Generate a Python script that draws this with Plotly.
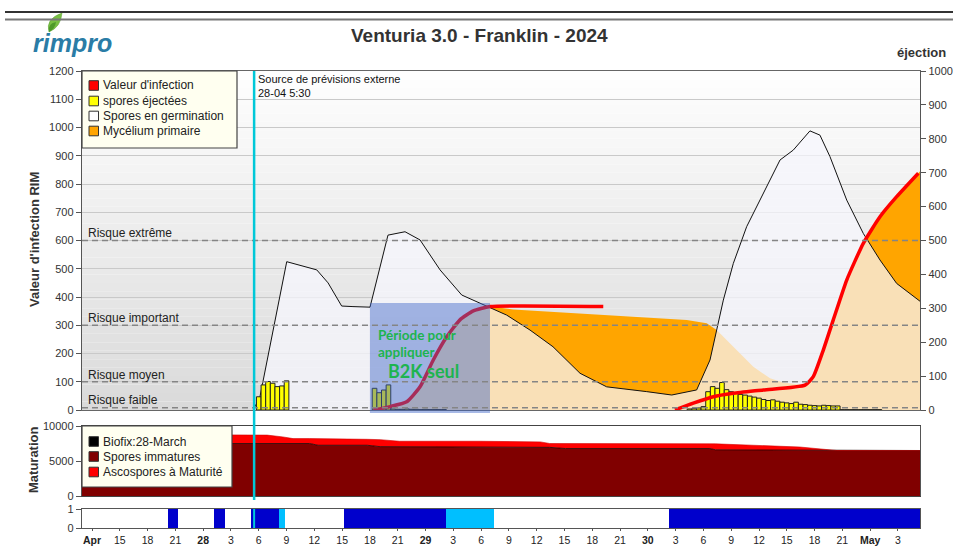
import plotly.graph_objects as go

# ---------------- data (hours since 27-Apr 00:00) ----------------
germ_hours = [29.4, 30.13, 33.02, 34.45, 36.26, 37.48, 38.95, 40.17, 42.01, 43.95, 45.79, 47.41,
              49.57, 51.91, 53.88, 54.96, 56.76, 59.28, 61.76, 64.68, 67.56, 71.88, 74.58, 77.27,
              78.71, 80.15, 81.23, 82.67, 84.47, 86.27, 87.70, 89.50, 90.58, 91.66, 93.47, 95.26,
              97.06, 98.86, 101.38]
germ_values = [0, 47, 525, 513, 496, 450, 368, 366, 364, 619, 631, 602,
               496, 407, 378, 364, 336, 283, 224, 130, 82, 65, 53, 71,
               177, 389, 519, 649, 767, 885, 920, 988, 973, 897, 743, 625,
               531, 448, 385]

myc_hours = [10.9, 42.37, 44.17, 45.97, 47.41, 48.84, 50.29, 51.72, 53.16, 54.96, 57.45, 64.68,
             71.88, 76.20, 78.35, 79.43, 81.23, 83.39, 85.19, 86.59, 88.97, 89.86, 90.94, 92.02,
             93.47, 95.26, 97.06, 98.86, 101.2, 101.38]
myc_values = [0, 0, 12, 29, 82, 177, 259, 319, 351, 366, 356, 342,
              330, 319, 307, 283, 224, 153, 112, 97, 88, 118, 212, 319,
              460, 590, 684, 755, 838, 845]

inf1_hours = [42.37, 44.17, 45.97, 47.41, 48.84, 50.29, 51.72, 53.16, 54.96, 67.19]
inf1_values = [0, 12, 29, 82, 177, 259, 319, 351, 366, 366]
inf2_hours = [74.93, 76.91, 79.07, 81.23, 84.47, 88.97, 89.86, 90.94, 92.02, 93.47, 95.26,
              97.06, 98.86, 101.2]
inf2_values = [0, 24, 47, 59, 71, 88, 118, 212, 319, 460, 590, 684, 755, 838]

eject_hours = [30.0, 30.5, 31.0, 31.5, 32.0, 32.5, 33.0,
               42.5, 43.0, 43.5, 44.0,
               44.5, 45.0, 45.5, 46.0, 46.5, 47.0, 47.5, 48.0, 48.5, 49.0, 49.5, 50.0,
               76.5, 77.0, 77.5, 78.0, 78.5, 79.0, 79.5, 80.0, 80.5, 81.0, 81.5, 82.0,
               82.5, 83.0, 83.5, 84.0, 84.5, 85.0, 85.5, 86.0, 86.5, 87.0, 87.5, 88.0,
               88.5, 89.0, 89.5, 90.0, 90.5, 91.0, 91.5, 92.0, 92.5,
               93.0, 93.5, 94.0, 94.5, 95.0, 95.5, 96.0, 96.5, 97.0]
eject_values = [39, 74, 84, 79, 69, 71, 86,
                64, 51, 59, 74,
                3, 2, 2, 3, 2, 2, 1, 2, 1, 1, 1, 1,
                3, 4, 6, 10, 54, 69, 64, 81, 60, 54, 50, 46,
                44, 41, 38, 35, 31, 28, 30, 26, 23, 21, 19, 23,
                17, 16, 14, 13, 12, 14, 13, 12, 12,
                1, 1, 1, 1, 1, 1, 1, 1, 1]

mat_hours = [10.9, 29.6, 30.9, 32.6, 33.7, 35.5, 36.4, 41.7, 43.1, 43.8, 45.2, 53.9,
             60.4, 61.4, 63.1, 73.6, 78.7, 79.3, 88.4, 89.9, 90.5, 92.4, 101.38]
immatures = [7500, 7500, 7500, 7500, 7500, 7500, 7250, 7250, 7050, 7050, 7050, 7050,
             7050, 6950, 6780, 6780, 6780, 6600, 6560, 6560, 6500, 6500, 6500]
matures = [1280, 1280, 1200, 940, 700, 700, 950, 850, 1000, 950, 770, 770,
           680, 550, 720, 720, 720, 850, 440, 240, 200, 0, 0]

strip_start = [10.92, 20.2, 21.3, 25.2, 26.4, 29.2, 32.2, 32.8, 39.2, 50.2, 55.4, 74.3]
strip_end = [20.2, 21.3, 25.2, 26.4, 29.2, 32.2, 32.8, 39.2, 50.2, 55.4, 74.3, 101.38]
strip_state = ["none", "wet", "none", "wet", "none", "wet", "light", "none", "wet", "light", "none", "wet"]

risk_levels = [600, 300, 100, 8]
risk_labels = ["Risque extrême", "Risque important", "Risque moyen", "Risque faible"]

tick_hours = list(range(12, 100, 3))
tick_labels = ["<b>Apr</b>", "15", "18", "21", "<b>28</b>", "3", "6", "9", "12", "15", "18", "21",
               "<b>29</b>", "3", "6", "9", "12", "15", "18", "21",
               "<b>30</b>", "3", "6", "9", "12", "15", "18", "21", "<b>May</b>", "3"]

forecast_hour = 29.5
b2k_start, b2k_end = 42.0, 54.96

# ---------------- layout helpers ----------------
W, H = 953, 546
ML, MR, MT, MB = 82, 33, 71, 18
PW = W - ML - MR
PH = H - MT - MB
STRIP_TOP = 509


def px_x(px):
    return (px - ML) / PW


def px_y(py):
    return (H - MB - py) / PH


FONT = "Liberation Sans, Arial, sans-serif"
XR = [10.92, 101.38]

fig = go.Figure()

# Mycelium (orange)
fig.add_trace(go.Scatter(x=myc_hours, y=myc_values, mode="lines", line=dict(width=0, color="#ffa500"),
                         fill="tozeroy", fillcolor="#ffa500", xaxis="x", yaxis="y", showlegend=False,
                         hoverinfo="skip"))
# Germinating spores (semi-transparent white)
fig.add_trace(go.Scatter(x=germ_hours, y=germ_values, mode="lines", line=dict(width=1, color="#111"),
                         fill="tozeroy", fillcolor="rgba(247,247,253,0.72)", xaxis="x", yaxis="y",
                         showlegend=False, hoverinfo="skip"))
# Ejected spores (right axis)
fig.add_trace(go.Bar(x=eject_hours, y=eject_values, width=0.5,
                     marker=dict(color="#ffff00", line=dict(color="#222", width=1)),
                     xaxis="x", yaxis="y2", showlegend=False, hoverinfo="skip"))
# Infection value (red)
for hh, vv in [(inf1_hours, inf1_values), (inf2_hours, inf2_values)]:
    fig.add_trace(go.Scatter(x=hh, y=vv, mode="lines", line=dict(width=3.5, color="#ff0000", shape="spline",
                                                                    smoothing=0.5),
                             xaxis="x", yaxis="y5", showlegend=False, hoverinfo="skip"))

# Maturation
fig.add_trace(go.Scatter(x=mat_hours, y=immatures, mode="lines", line=dict(width=0.8, color="#1a0000"),
                         stackgroup="m", fillcolor="#800000", xaxis="x2", yaxis="y3", showlegend=False,
                         hoverinfo="skip"))
fig.add_trace(go.Scatter(x=mat_hours, y=matures, mode="lines", line=dict(width=0.6, color="#d00000"),
                         stackgroup="m", fillcolor="#ff0000", xaxis="x2", yaxis="y3", showlegend=False,
                         hoverinfo="skip"))

# Wetness strip
state_color = {"none": "#ffffff", "wet": "#0000cc", "light": "#00bfff"}
fig.add_trace(go.Bar(x=[(s + e) / 2 for s, e in zip(strip_start, strip_end)],
                     y=[1] * len(strip_start),
                     width=[e - s for s, e in zip(strip_start, strip_end)],
                     marker=dict(color=[state_color[s] for s in strip_state], line=dict(width=0)),
                     xaxis="x3", yaxis="y4", showlegend=False, hoverinfo="skip"))

shapes = []
# background gradient of main plot
N = 40
for i in range(N):
    t = (i + 0.5) / N
    c = int(218 + (255 - 218) * t)
    shapes.append(dict(type="rect", xref="x domain", yref="y domain", x0=0, x1=1, y0=i / N, y1=(i + 1) / N,
                       fillcolor=f"rgb({c},{c},{c})", line=dict(width=0), layer="below"))
# B2K period box
shapes.append(dict(type="rect", xref="x", yref="paper", x0=b2k_start, x1=b2k_end,
                   y0=px_y(413), y1=px_y(303), fillcolor="rgba(60,100,200,0.45)", line=dict(width=0),
                   layer="above"))
# risk lines
for r in risk_levels:
    shapes.append(dict(type="line", xref="x domain", yref="y", x0=0, x1=1, y0=r, y1=r,
                       line=dict(color="#858585", width=1.6, dash="6px,4px"), layer="above"))
# forecast line
shapes.append(dict(type="line", xref="x", yref="paper", x0=forecast_hour, x1=forecast_hour,
                   y0=px_y(500), y1=px_y(71), line=dict(color="#00c8d8", width=2.5), layer="above"))
shapes.append(dict(type="line", xref="x", yref="paper", x0=forecast_hour, x1=forecast_hour,
                   y0=0, y1=px_y(STRIP_TOP), line=dict(color="#00c8d8", width=2), layer="above"))

annotations = []


def legend_box(x0, y0, x1, y1, items):
    shapes.append(dict(type="rect", xref="paper", yref="paper", x0=px_x(x0), x1=px_x(x1),
                       y0=px_y(y1), y1=px_y(y0), fillcolor="#fffff0",
                       line=dict(color="#444", width=1.2), layer="above"))
    for yc, col, txt in items:
        shapes.append(dict(type="rect", xref="paper", yref="paper", x0=px_x(89), x1=px_x(98.5),
                           y0=px_y(yc + 4.8), y1=px_y(yc - 4.8), fillcolor=col,
                           line=dict(color="#333", width=1), layer="above"))
        annotations.append(dict(xref="paper", yref="paper", x=px_x(101), y=px_y(yc), text=txt,
                                showarrow=False, xanchor="left", yanchor="middle",
                                font=dict(family=FONT, size=12, color="#222")))


legend_box(82, 71, 237, 148, [(85.5, "#ff0000", "Valeur d'infection"),
                              (101, "#ffff00", "spores éjectées"),
                              (116, "#ffffff", "Spores en germination"),
                              (131, "#ffa500", "Mycélium primaire")])
legend_box(82, 426, 232, 487, [(441.5, "#000000", "Biofix:28-March"),
                               (456.5, "#800000", "Spores immatures"),
                               (472, "#ff0000", "Ascospores à Maturité")])

# risk labels
for lab, yc in zip(risk_labels, [233, 318, 375.5, 400]):
    annotations.append(dict(xref="paper", yref="paper", x=px_x(86), y=px_y(yc), text=lab, showarrow=False,
                            xanchor="left", yanchor="middle", font=dict(family=FONT, size=12, color="#222")))

# forecast source text
annotations.append(dict(xref="x", yref="paper", x=forecast_hour, xshift=2, y=px_y(71), yanchor="top",
                        xanchor="left", showarrow=False, align="left",
                        text="Source de prévisions externe<br>28-04 5:30",
                        font=dict(family=FONT, size=11, color="#111")))

# B2K text
GREEN = "#1db44f"
for txt, xp, yp, sz in [("Période pour", 376, 335, 13.5), ("appliquer", 376, 352, 13.5),
                        ("B2K seul", 386, 371, 18)]:
    annotations.append(dict(xref="paper", yref="paper", x=px_x(xp), y=px_y(yp), text=f"<b>{txt}</b>",
                            showarrow=False, xanchor="left", yanchor="middle",
                            font=dict(family="Lato, Open Sans, sans-serif", size=sz, color=GREEN)))

# titles
annotations.append(dict(xref="paper", yref="paper", x=px_x(479), y=px_y(35), text="<b>Venturia 3.0 - Franklin - 2024</b>",
                        showarrow=False, xanchor="center", yanchor="middle",
                        font=dict(family=FONT, size=19, color="#333")))
annotations.append(dict(xref="paper", yref="paper", x=px_x(948), y=px_y(53), text="<b>éjection</b>",
                        showarrow=False, xanchor="right", yanchor="middle",
                        font=dict(family=FONT, size=13, color="#333")))
annotations.append(dict(xref="paper", yref="paper", x=px_x(35), y=px_y(240), text="<b>Valeur d'infection RIM</b>",
                        showarrow=False, textangle=-90, xanchor="center", yanchor="middle",
                        font=dict(family=FONT, size=13, color="#333")))
annotations.append(dict(xref="paper", yref="paper", x=px_x(33), y=px_y(460), text="<b>Maturation</b>",
                        showarrow=False, textangle=-90, xanchor="center", yanchor="middle",
                        font=dict(family=FONT, size=13, color="#333")))
# logo
annotations.append(dict(xref="paper", yref="paper", x=px_x(31), y=px_y(43), text="<b><i>rimpro</i></b>",
                        showarrow=False, xanchor="left", yanchor="middle",
                        font=dict(family=FONT, size=25, color="#2a7ca6")))


def pp(x, y):
    return f"{px_x(x):.5f},{px_y(y):.5f}"


leaf = f"M {pp(49, 32)} Q {pp(45, 19)} {pp(62, 13)} Q {pp(61, 27)} {pp(49, 32)} Z"
shapes.append(dict(type="path", xref="paper", yref="paper", path=leaf, fillcolor="#78c043",
                   line=dict(color="#5a9e30", width=0.5)))
leaf2 = f"M {pp(49, 32)} Q {pp(47, 24)} {pp(56, 22)} Q {pp(55, 29)} {pp(49, 32)} Z"
shapes.append(dict(type="path", xref="paper", yref="paper", path=leaf2, fillcolor="#4e9a2a",
                   line=dict(width=0)))

# top decoration lines
shapes.append(dict(type="line", xref="paper", yref="paper", x0=px_x(5), x1=px_x(953), y0=px_y(12), y1=px_y(12),
                   line=dict(color="#333", width=2)))
shapes.append(dict(type="line", xref="paper", yref="paper", x0=px_x(5), x1=px_x(953), y0=px_y(19.5),
                   y1=px_y(19.5), line=dict(color="#777", width=2)))

tickfont = dict(family=FONT, size=11, color="#333")
axis_common = dict(showline=True, linecolor="#555", linewidth=1.2, ticks="outside", ticklen=5,
                   tickcolor="#555", tickfont=tickfont, zeroline=False, automargin=False)
xtick_axis = {k: v for k, v in axis_common.items() if k not in ("ticklen", "tickfont")}

fig.update_layout(
    width=W, height=H, margin=dict(l=ML, r=MR, t=MT, b=MB, autoexpand=False),
    paper_bgcolor="white", plot_bgcolor="white", bargap=0, barmode="overlay",
    showlegend=False, font=dict(family=FONT),
    xaxis=dict(domain=[0, 1], anchor="y", range=XR, showticklabels=False, showline=True, mirror=True,
               linecolor="#666", linewidth=1.2, showgrid=False, zeroline=False, ticks="", automargin=False),
    yaxis=dict(domain=[px_y(410), 1], anchor="x", range=[0, 1200], dtick=100, showgrid=True,
               gridcolor="#c9c9c9", gridwidth=1, **axis_common),
    yaxis2=dict(overlaying="y", side="right", anchor="x", range=[0, 1000], dtick=100, showgrid=False,
                **axis_common),
    yaxis5=dict(overlaying="y", anchor="x", range=[0, 1200], visible=False),
    xaxis2=dict(domain=[0, 1], anchor="y3", range=XR, showticklabels=False, showline=True, mirror=True,
                linecolor="#444", linewidth=1.2, showgrid=False, zeroline=False, ticks="", automargin=False),
    yaxis3=dict(domain=[px_y(496), px_y(426)], anchor="x2", range=[0, 10000], tickvals=[0, 5000, 10000],
                ticktext=["0", "5000", "10000"], showgrid=False, mirror=True, **axis_common),
    xaxis3=dict(domain=[0, 1], anchor="y4", range=XR, tickvals=tick_hours, ticktext=tick_labels,
                showgrid=False, mirror=True, ticklen=2,
                tickfont=dict(family=FONT, size=10.5, color="#222"), **xtick_axis),
    yaxis4=dict(domain=[0, px_y(STRIP_TOP)], anchor="x3", range=[0, 1], tickvals=[0, 1], showgrid=False,
                mirror=True, **axis_common),
    shapes=shapes, annotations=annotations,
)

fig.write_html("out.html", config={"displayModeBar": False, "staticPlot": True},
               post_script="document.body.style.margin='0';document.body.style.padding='0';"
                           "document.body.style.overflow='hidden';")
